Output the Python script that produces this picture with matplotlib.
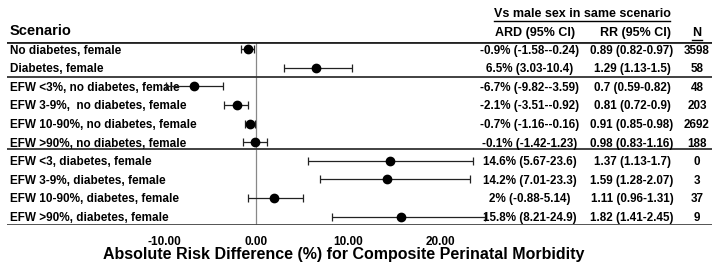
import matplotlib
matplotlib.use("Agg")
import matplotlib.pyplot as plt
from matplotlib.lines import Line2D
from matplotlib.transforms import blended_transform_factory

# ----------------------------------------------------------------------
# Data
# ----------------------------------------------------------------------
scenarios = [
    "No diabetes, female",
    "Diabetes, female",
    "EFW <3%, no diabetes, female",
    "EFW 3-9%,  no diabetes, female",
    "EFW 10-90%, no diabetes, female",
    "EFW >90%, no diabetes, female",
    "EFW <3, diabetes, female",
    "EFW 3-9%, diabetes, female",
    "EFW 10-90%, diabetes, female",
    "EFW >90%, diabetes, female",
]
ard = [-0.9, 6.5, -6.7, -2.1, -0.7, -0.1, 14.6, 14.2, 2.0, 15.8]
ard_lo = [-1.58, 3.03, -9.82, -3.51, -1.16, -1.42, 5.67, 7.01, -0.88, 8.21]
ard_hi = [-0.24, 10.4, -3.59, -0.92, -0.16, 1.23, 23.6, 23.3, 5.14, 24.9]
ard_text = [
    "-0.9% (-1.58--0.24)", "6.5% (3.03-10.4)", "-6.7% (-9.82--3.59)",
    "-2.1% (-3.51--0.92)", "-0.7% (-1.16--0.16)", "-0.1% (-1.42-1.23)",
    "14.6% (5.67-23.6)", "14.2% (7.01-23.3)", "2% (-0.88-5.14)",
    "15.8% (8.21-24.9)",
]
rr_text = [
    "0.89 (0.82-0.97)", "1.29 (1.13-1.5)", "0.7 (0.59-0.82)", "0.81 (0.72-0.9)",
    "0.91 (0.85-0.98)", "0.98 (0.83-1.16)", "1.37 (1.13-1.7)", "1.59 (1.28-2.07)",
    "1.11 (0.96-1.31)", "1.82 (1.41-2.45)",
]
n_text = ["3598", "58", "48", "203", "2692", "188", "0", "3", "37", "9"]
xticks = [-10, 0, 10, 20]
xtick_labels = ["-10.00", "0.00", "10.00", "20.00"]

# ----------------------------------------------------------------------
# Figure
# ----------------------------------------------------------------------
plt.rcParams["font.family"] = ["Liberation Sans Narrow", "Liberation Sans", "DejaVu Sans"]
plt.rcParams["font.weight"] = "bold"

W, H = 720, 270
fig = plt.figure(figsize=(W / 100, H / 100), dpi=100)
# axes spans the full table width; zero of the ARD scale sits at x=256 px
ax = fig.add_axes([7 / W, 1 - 225 / H, 705 / W, (225 - 42.0) / H])
scale = 9.2  # px per % unit
ax.set_xlim((7 - 256) / scale, (712 - 256) / scale)
ax.set_ylim(9.446, -0.39)
for s in ax.spines.values():
    s.set_visible(False)
ax.set_yticks([])
ax.set_xticks(xticks)
ax.set_xticklabels(xtick_labels, fontsize=8.5, fontweight="bold")
ax.tick_params(axis="x", length=0, pad=8)
ax.set_xlabel("Absolute Risk Difference (%) for Composite Perinatal Morbidity",
              fontsize=11.5, fontweight="bold")
ax.xaxis.set_label_coords((344 - 7) / 705, -0.12)

rows = list(range(len(scenarios)))

# table rules
ax.axhline(-0.39, color="#222222", lw=2.0)
ax.axhline(1.47, color="#333333", lw=1.3)
ax.axhline(5.38, color="#333333", lw=1.3)
ax.axhline(9.446, color="#444444", lw=2.0)
ax.plot([0, 0], [-0.39, 9.446], color="#888888", lw=0.9, zorder=1)

# forest plot
xerr = [[a - lo for a, lo in zip(ard, ard_lo)], [hi - a for a, hi in zip(ard, ard_hi)]]
ax.errorbar(ard, rows, xerr=xerr, fmt="o", color="black", ecolor="#222222",
            elinewidth=0.9, capsize=2.8, capthick=0.9, markersize=6, zorder=3)

# text columns (nudged a touch below the row centre, like the source table)
tr = blended_transform_factory(fig.transFigure, ax.transData)
fs = 8.4
for i in rows:
    y = i + 0.07
    ax.text(10 / W, y, scenarios[i], transform=tr, ha="left", va="center",
            fontsize=8.5, fontweight="bold", zorder=2)
    ax.text(530 / W, y, ard_text[i], transform=tr, ha="center", va="center",
            fontsize=fs, fontweight="bold")
    ax.text(632 / W, y, rr_text[i], transform=tr, ha="center", va="center",
            fontsize=fs, fontweight="bold")
    ax.text(697 / W, y, n_text[i], transform=tr, ha="center", va="center",
            fontsize=fs, fontweight="bold")

# headers
fig.text(10 / W, 1 - 31 / H, "Scenario", ha="left", va="center",
         fontsize=10.5, fontweight="bold")
t_vs = fig.text(582 / W, 1 - 14 / H, "Vs male sex in same scenario", ha="center",
                va="center", fontsize=9, fontweight="bold")
fig.text(535 / W, 1 - 33 / H, "ARD (95% CI)", ha="center", va="center",
         fontsize=9, fontweight="bold")
fig.text(635 / W, 1 - 33 / H, "RR (95% CI)", ha="center", va="center",
         fontsize=9, fontweight="bold")
t_n = fig.text(697 / W, 1 - 33 / H, "N", ha="center", va="center",
               fontsize=9, fontweight="bold")

# underline the two underlined headers
fig.canvas.draw()
r = fig.canvas.get_renderer()
for t in (t_vs, t_n):
    bb = t.get_window_extent(r).transformed(fig.transFigure.inverted())
    fig.add_artist(Line2D([bb.x0, bb.x1], [bb.y0 - 1 / H, bb.y0 - 1 / H],
                          transform=fig.transFigure, color="black", lw=1.0))

fig.savefig("out.png", dpi=100)
